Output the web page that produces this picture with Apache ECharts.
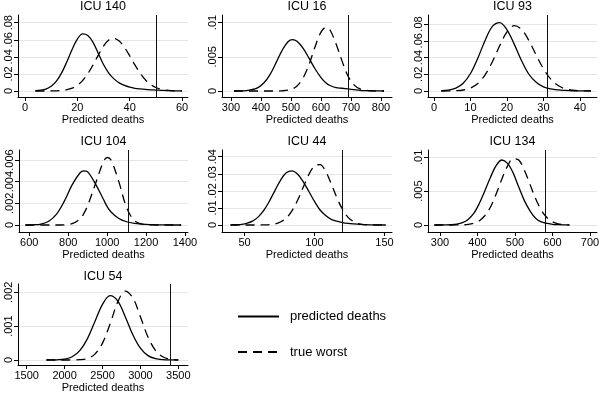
<!DOCTYPE html>
<html><head><meta charset="utf-8">
<script src="https://cdn.jsdelivr.net/npm/echarts@6/dist/echarts.min.js"></script>
<style>html,body{margin:0;padding:0;background:#fff}#c{width:600px;height:397px}</style>
</head><body><div id="c"></div>
<script>
// ---------- DATA ----------
const titles = ['ICU 140','ICU 16','ICU 93','ICU 104','ICU 44','ICU 134','ICU 54'];
const legendNames = ['predicted deaths','true worst'];
const xAxisTitle = 'Predicted deaths';

const x140 = [4,6,8,10,12,14,16,18,20,22,24,26,28,30,32,34,36,38,40,42,44,46,48,50,52,54,56,58,60];
const pred140 = [0.0003,0.0009,0.0023,0.0056,0.0116,0.0212,0.0343,0.0486,0.0608,0.0669,0.065,0.057,0.044,0.031,0.021,0.0142,0.0095,0.0065,0.0045,0.0032,0.0024,0.0018,0.0014,0.0011,0.0008,0.0005,0.0003,0.0002,0.0001];
const true140 = [0,0,0,0.0001,0.0002,0.0006,0.0015,0.0033,0.0067,0.0122,0.0203,0.0306,0.042,0.0525,0.0597,0.0616,0.0585,0.0511,0.0412,0.0305,0.0209,0.0132,0.0076,0.0041,0.002,0.0009,0.0004,0.0002,0.0001];

const x16 = [310,330,350,370,390,410,430,450,470,490,505,520,540,560,580,600,617,630,650,670,690,710,730,750,770,790,810];
const pred16 = [0,0.00002,0.00006,0.0002,0.0005,0.0012,0.0024,0.0041,0.0059,0.0072,0.0075,0.00725,0.00625,0.00479,0.00325,0.00196,0.00116,0.0008,0.0005,0.0004,0.0003,0.0002,0.0001,0.00005,0.00002,0.00001,0];
const true16 = [0,0,0,0,0,0,0,0,0.00003,0.00012,0.00031,0.00073,0.00187,0.00386,0.00643,0.0086,0.0093,0.0089,0.0069,0.0044,0.0022,0.0009,0.0003,0.0001,0.00003,0,0];

const x93 = [2,4,6,8,10,12,14,16,18,20,22,24,26,28,30,32,34,36,38,40,42,43];
const pred93 = [0.0003,0.001,0.0034,0.0093,0.0209,0.0391,0.0604,0.0772,0.0817,0.0731,0.0557,0.0362,0.02,0.0105,0.005,0.0025,0.0013,0.0007,0.0003,0.0002,0.0001,0.0001];
const true93 = [0,0.0001,0.0003,0.0012,0.0035,0.009,0.0193,0.035,0.054,0.0705,0.078,0.0736,0.0603,0.0429,0.0265,0.0141,0.0065,0.0026,0.0009,0.0003,0.0001,0];

const x104 = [580,620,660,700,740,780,820,860,880,900,940,980,1000,1020,1060,1100,1140,1180,1220,1260,1300,1340,1380];
const pred104 = [0,0.00002,0.00009,0.00035,0.001,0.0022,0.0037,0.0048,0.005,0.0049,0.0038,0.0024,0.0017,0.0012,0.0006,0.0003,0.00015,0.00008,0.00004,0.00002,0.00001,0,0];
const true104 = [0,0,0,0,0,0.00002,0.00012,0.00056,0.00105,0.0018,0.0038,0.0058,0.00623,0.006,0.004,0.0016,0.0004,0.00007,0.00001,0,0,0,0];

const x44 = [40,44,48,52,56,60,64,68,72,76,80,84,88,92,96,100,104,108,112,116,120,124,128,132,136,140,144,148,151];
const pred44 = [0.00005,0.00015,0.0004,0.0011,0.0024,0.0049,0.0088,0.0143,0.0206,0.0266,0.0307,0.0317,0.0297,0.0253,0.0196,0.0138,0.0088,0.0056,0.0033,0.0022,0.0014,0.0009,0.0006,0.0004,0.0002,0.0001,0.00005,0.00002,0];
const true44 = [0,0,0,0,0,0.00002,0.00007,0.00025,0.0007,0.0019,0.0042,0.0084,0.0146,0.0222,0.0296,0.0346,0.0354,0.0314,0.0241,0.016,0.0092,0.0045,0.002,0.0007,0.0002,0.00006,0,0,0];

const x134 = [285,300,315,330,345,360,375,390,405,420,435,450,465,480,495,510,525,540,555,570,585,600,615,630,645];
const pred134 = [0,0.000003,0.00001,0.00004,0.00013,0.00035,0.00083,0.0017,0.0032,0.0051,0.0071,0.0088,0.0096,0.0091,0.0077,0.0056,0.0036,0.0021,0.001,0.00045,0.00025,0.0001,0.00005,0.00002,0];
const true134 = [0,0,0,0,0.00001,0.00003,0.00008,0.00025,0.00063,0.0014,0.0027,0.0046,0.0068,0.0087,0.0098,0.0096,0.0081,0.006,0.0039,0.0022,0.0011,0.00047,0.00018,0.00006,0.00002];

const x54 = [1760,1800,1900,2000,2100,2200,2300,2400,2500,2600,2700,2800,2900,3000,3100,3200,3300,3400,3500];
const pred54 = [0,0.000001,0.000006,0.000027,0.000096,0.000276,0.000625,0.001136,0.001644,0.0019,0.001744,0.001279,0.000747,0.000348,0.000129,0.000038,0.000009,0.000002,0];
const true54 = [0,0,0,0,0.0000013,0.0000088,0.000045,0.000173,0.000498,0.001065,0.001704,0.002036,0.001838,0.001275,0.00068,0.000279,0.000087,0.000021,0.000004];

const observed = [50, 690, 31, 1110, 120, 580, 3390];

const xTicks = [[0,20,40,60],[300,400,500,600,700,800],[0,10,20,30,40],[600,800,1000,1200,1400],[50,100,150],[300,400,500,600,700],[1500,2000,2500,3000,3500]];
const yTicks = [[0,0.02,0.04,0.06,0.08],[0,0.005,0.01],[0,0.02,0.04,0.06,0.08],[0,0.002,0.004,0.006],[0,0.01,0.02,0.03,0.04],[0,0.005,0.01],[0,0.001,0.002]];

const xsList = [x140,x16,x93,x104,x44,x134,x54];
const predList = [pred140,pred16,pred93,pred104,pred44,pred134,pred54];
const trueList = [true140,true16,true93,true104,true44,true134,true54];

// ---------- LAYOUT (pixels / axis extents) ----------
const layout = [
  {left:18, top:15, width:170, height:82, xMin:-2.67, xMax:62.28, yMin:-0.00703, yMax:0.08902, titleY:6.7},
  {left:222, top:15, width:170, height:82, xMin:270, xMax:836.7, yMin:-0.000876, yMax:0.011095, titleY:6.7},
  {left:428, top:15, width:169, height:82, xMin:-1.64, xMax:44.66, yMin:-0.00716, yMax:0.09075, titleY:6.7},
  {left:19, top:150, width:169, height:82, xMin:547.1, xMax:1415.5, yMin:-0.000646, yMax:0.006923, titleY:141.7},
  {left:222, top:150, width:170, height:82, xMin:33.9, xMax:155.4, yMin:-0.0041, yMax:0.04392, titleY:141.7},
  {left:428, top:150, width:169, height:82, xMin:268, xMax:718.7, yMin:-0.001034, yMax:0.011078, titleY:141.7},
  {left:18, top:284, width:170, height:81, xMin:1385, xMax:3628, yMin:-0.000148, yMax:0.002245, titleY:276.7}
];

const FONT = '"Liberation Sans", Arial, Helvetica, sans-serif';
const fmtY = v => v === 0 ? '0' : String(v).replace(/^0\./, '.');
const fmtX = v => String(v);

const chart = echarts.init(document.getElementById('c'), null, {renderer:'canvas'});
const grids = [], xAxes = [], yAxes = [], series = [], graphics = [];

titles.forEach((t, i) => {
  const L = layout[i];
  grids.push({left:L.left, top:L.top, width:L.width, height:L.height, containLabel:false, outerBoundsMode:'none'});
  xAxes.push({
    type:'value', gridIndex:i, min:L.xMin, max:L.xMax,
    name:xAxisTitle, nameLocation:'middle', nameGap:17,
    nameTextStyle:{fontFamily:FONT, fontSize:11, color:'#000'},
    axisLine:{show:true, onZero:false, lineStyle:{color:'#000', width:1}},
    axisTick:{show:true, length:4, customValues:xTicks[i], lineStyle:{color:'#000', width:1}},
    axisLabel:{show:true, customValues:xTicks[i], margin:5, formatter:fmtX, showMinLabel:true, showMaxLabel:true, hideOverlap:false,
      fontFamily:FONT, fontSize:11, color:'#000'},
    splitLine:{show:false}
  });
  yAxes.push({
    type:'value', gridIndex:i, min:L.yMin, max:L.yMax,
    axisLine:{show:true, onZero:false, lineStyle:{color:'#000', width:1}},
    axisTick:{show:true, length:4, customValues:yTicks[i], lineStyle:{color:'#000', width:1}},
    axisLabel:{show:true, customValues:yTicks[i], rotate:90, margin:4, formatter:fmtY, showMinLabel:true, showMaxLabel:true, hideOverlap:false,
      fontFamily:FONT, fontSize:11, color:'#000'},
    splitLine:{show:true, lineStyle:{color:'#e3e6e8', width:1}}
  });
  const xs = xsList[i];
  series.push({
    type:'line', name:legendNames[0], xAxisIndex:i, yAxisIndex:i,
    data: xs.map((x,k) => [x, predList[i][k]]),
    smooth:0.35, symbol:'none', showSymbol:false, z:3,
    lineStyle:{color:'#000', width:1.3, type:'solid'}, itemStyle:{color:'#000'},
    markLine:{silent:true, symbol:'none', label:{show:false}, animation:false,
      lineStyle:{color:'#111', width:1, type:'solid'}, data:[{xAxis:observed[i]}]}
  });
  series.push({
    type:'line', name:legendNames[1], xAxisIndex:i, yAxisIndex:i,
    data: xs.map((x,k) => [x, trueList[i][k]]),
    smooth:0.35, symbol:'none', showSymbol:false, z:3,
    lineStyle:{color:'#000', width:1.3, type:[9,6]}, itemStyle:{color:'#000'}
  });
  graphics.push({
    type:'text', x:L.left + L.width/2, y:L.titleY, silent:true,
    style:{text:t, fontFamily:FONT, fontSize:12.5, fill:'#000', align:'center', verticalAlign:'middle'}
  });
});

chart.setOption({
  animation:false,
  backgroundColor:'#fff',
  grid:grids, xAxis:xAxes, yAxis:yAxes, series:series,
  graphic:graphics,
  legend:{
    show:true, data:legendNames, orient:'vertical', left:237, top:310, padding:0,
    itemWidth:41, itemHeight:14, itemGap:22.5, selectedMode:false,
    itemStyle:{opacity:0},
    textStyle:{fontFamily:FONT, fontSize:13, color:'#000', padding:[0,0,0,6]}
  }
});
</script></body></html>
